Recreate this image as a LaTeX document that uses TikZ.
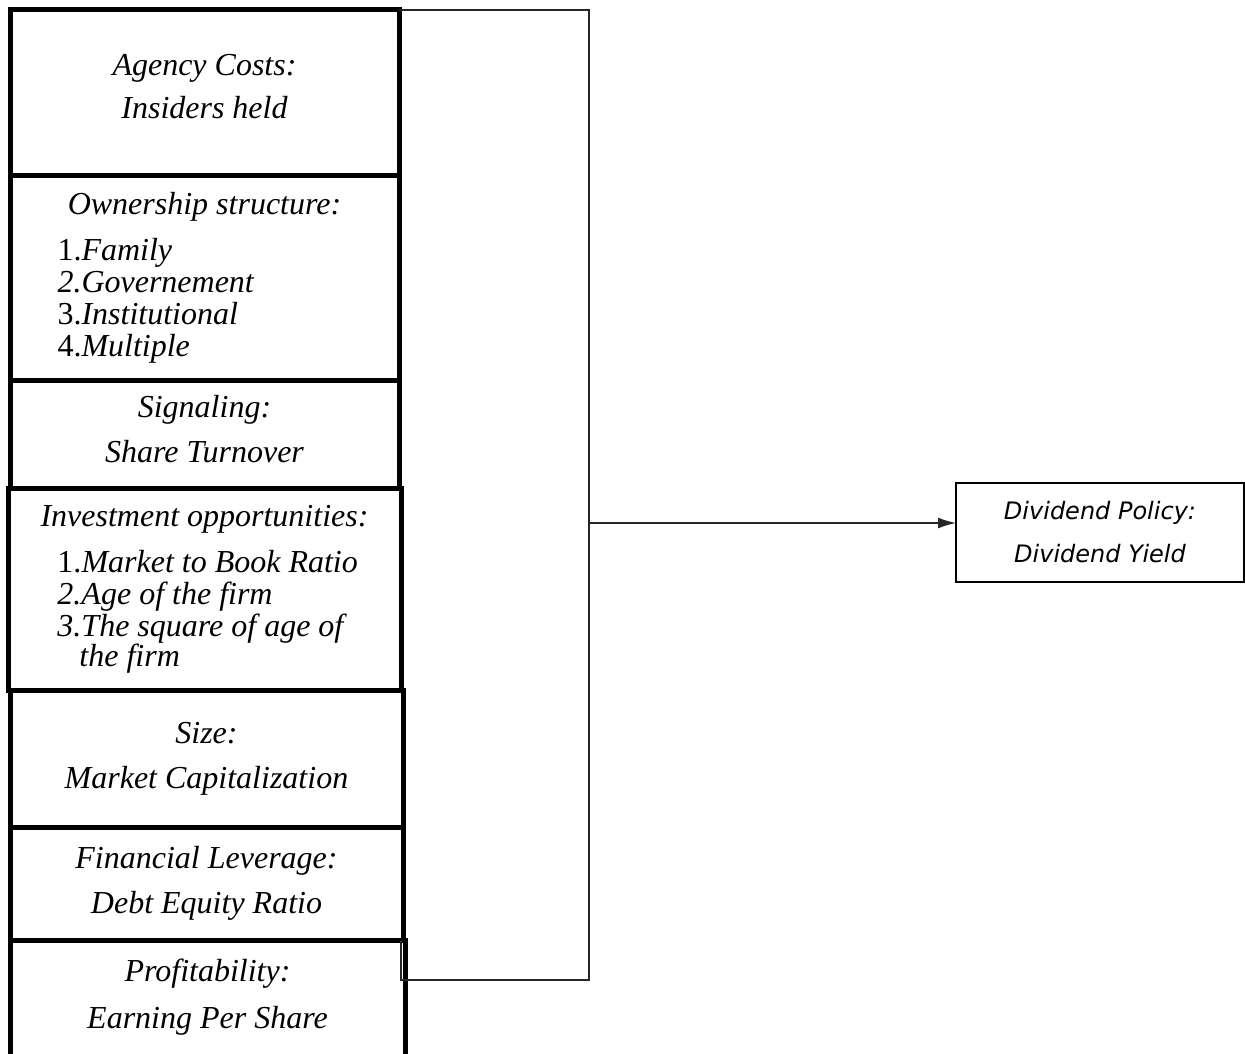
\documentclass[tikz,border=0pt]{standalone}
\usepackage{fontspec}
\setmainfont{Liberation Serif}
\newfontfamily\divfont{DejaVu Sans}
\usetikzlibrary{arrows.meta}

\begin{document}
\begin{tikzpicture}[x=1pt,y=-1pt,
    factor/.style={rectangle, draw, line width=5pt, inner sep=0pt, outer sep=0pt, align=center,
      font=\fontsize{32}{32}\selectfont\itshape},
    bracket/.style={line width=1.4pt, draw=black!85},
    depvar/.style={rectangle, draw, line width=1.6pt, inner sep=0pt, outer sep=0pt, align=center,
      font=\divfont\fontsize{24}{24}\selectfont\itshape}]
    \useasboundingbox (0,0) rectangle (1245,1054);

    % left column of determinants
    \draw (204.5,92.5) node[factor, minimum width=389pt, minimum height=165pt](agency){Agency Costs:\\[11pt]Insiders held\\[-20pt]}
       (204.5,277.5) node[factor, minimum width=389pt, minimum height=205pt](owner){Ownership structure:\\[14pt]
         \makebox[294pt][l]{\upshape1.\itshape Family}\\
         \makebox[294pt][l]{2.Governement}\\
         \makebox[294pt][l]{\upshape3.\itshape Institutional}\\
         \makebox[294pt][l]{\upshape4.\itshape Multiple}}
       (204.5,434) node[factor, minimum width=389pt, minimum height=108pt](signal){Signaling:\\[13pt]Share Turnover\\[-21pt]}
       (204.5,589) node[factor, minimum width=393pt, minimum height=202pt](invest){Investment opportunities:\\[14pt]
         \makebox[294pt][l]{\upshape1.\itshape Market to Book Ratio}\\
         \makebox[294pt][l]{2.Age of the firm}\\
         \makebox[294pt][l]{3.The square of age of}\\[-2pt]
         \makebox[294pt][l]{\hspace*{22pt}the firm}}
       (206.5,758.5) node[factor, minimum width=393pt, minimum height=137pt](size){Size:\\[13pt]Market Capitalization}
       (206.5,883.5) node[factor, minimum width=393pt, minimum height=113pt](leverage){Financial Leverage:\\[13pt]Debt Equity Ratio}
       (207.5,1000) node[factor, minimum width=395pt, minimum height=120pt](profit){Profitability:\\[15pt]Earning Per Share\\[-19pt]};

    % dependent variable
    \draw (1100,532.5) node[depvar, minimum width=288pt, minimum height=99pt](dividend){Dividend Policy:\\[19pt]Dividend Yield};

    \coordinate (brtop) at (589,10);
    \coordinate (brmid) at (589,523);
    \coordinate (brbot) at (589,980);
    \coordinate (brfoot) at (401,980);

    \draw[bracket] (agency.north east) -- (brtop) -- (brbot) -- (brfoot) -- (brfoot |- profit.north);
    \draw[bracket, -{Latex[length=18pt,width=11pt]}] (brmid) -- (brmid -| dividend.west);
\end{tikzpicture}
\end{document}
